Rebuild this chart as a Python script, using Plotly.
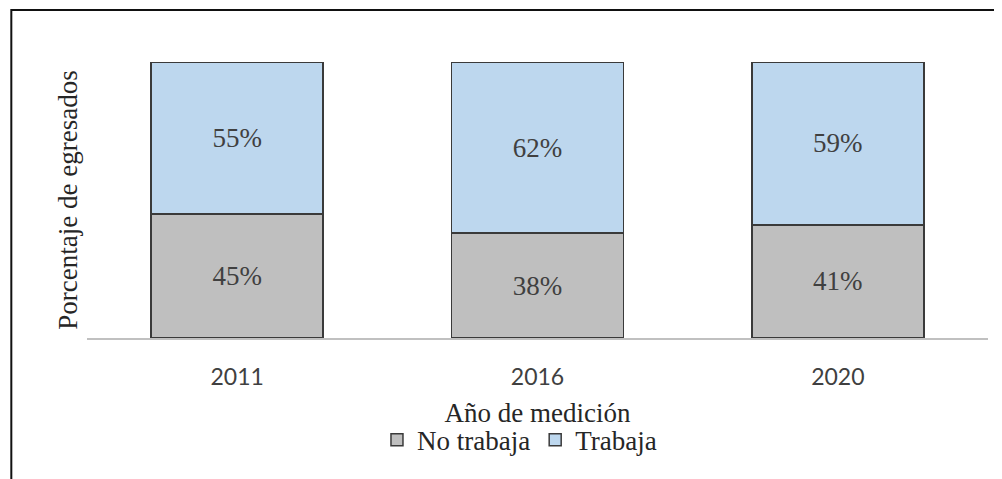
import plotly.graph_objects as go

# Data
years = ["2011", "2016", "2020"]
no_trabaja = [45, 38, 41]
trabaja = [55, 62, 59]

serif = "Liberation Serif, Times New Roman, serif"

fig = go.Figure()
fig.add_trace(
    go.Bar(
        x=years,
        y=no_trabaja,
        name="No trabaja",
        text=[f"{v}%" for v in no_trabaja],
        marker=dict(color="#bfbfbf", line=dict(color="#3a3a3a", width=1.5)),
    )
)
fig.add_trace(
    go.Bar(
        x=years,
        y=trabaja,
        name="Trabaja",
        text=[f"{v}%" for v in trabaja],
        marker=dict(color="#bdd7ee", line=dict(color="#3a3a3a", width=1.5)),
    )
)
fig.update_traces(
    textposition="inside",
    insidetextanchor="middle",
    textangle=0,
    textfont=dict(family=serif, size=27, color="#404040"),
    hoverinfo="skip",
)

# Outer frame (top and left edges)
frame = dict(type="path", xref="paper", yref="paper",
             path="M -0.084,-0.54 L -0.084,1.188 L 1.04,1.188",
             line=dict(color="#111111", width=2))

fig.update_layout(
    width=1002,
    height=479,
    barmode="stack",
    bargap=0.427,
    plot_bgcolor="white",
    paper_bgcolor="white",
    margin=dict(l=79, r=22, t=54, b=149),
    font=dict(family=serif, color="#262626"),
    showlegend=True,
    legend=dict(
        orientation="h",
        x=0.48,
        xanchor="center",
        y=-0.37,
        yanchor="middle",
        font=dict(family=serif, size=27, color="#262626"),
        traceorder="normal",
        itemwidth=30,
    ),
    shapes=[frame],
    xaxis=dict(
        showline=True,
        linecolor="#c0c0c0",
        linewidth=1.5,
        showgrid=False,
        ticks="",
        ticklabelstandoff=18,
        tickfont=dict(family="Lato, Open Sans, sans-serif", size=23, color="#404040"),
        title=dict(text="Año de medición", standoff=14,
                   font=dict(family=serif, size=27, color="#262626")),
    ),
    yaxis=dict(
        range=[0, 100],
        showgrid=False,
        showticklabels=False,
        zeroline=False,
        showline=False,
        ticks="",
        title=dict(text="Porcentaje de egresados", standoff=0,
                   font=dict(family=serif, size=27, color="#262626")),
    ),
)

fig.write_html("out.html")
